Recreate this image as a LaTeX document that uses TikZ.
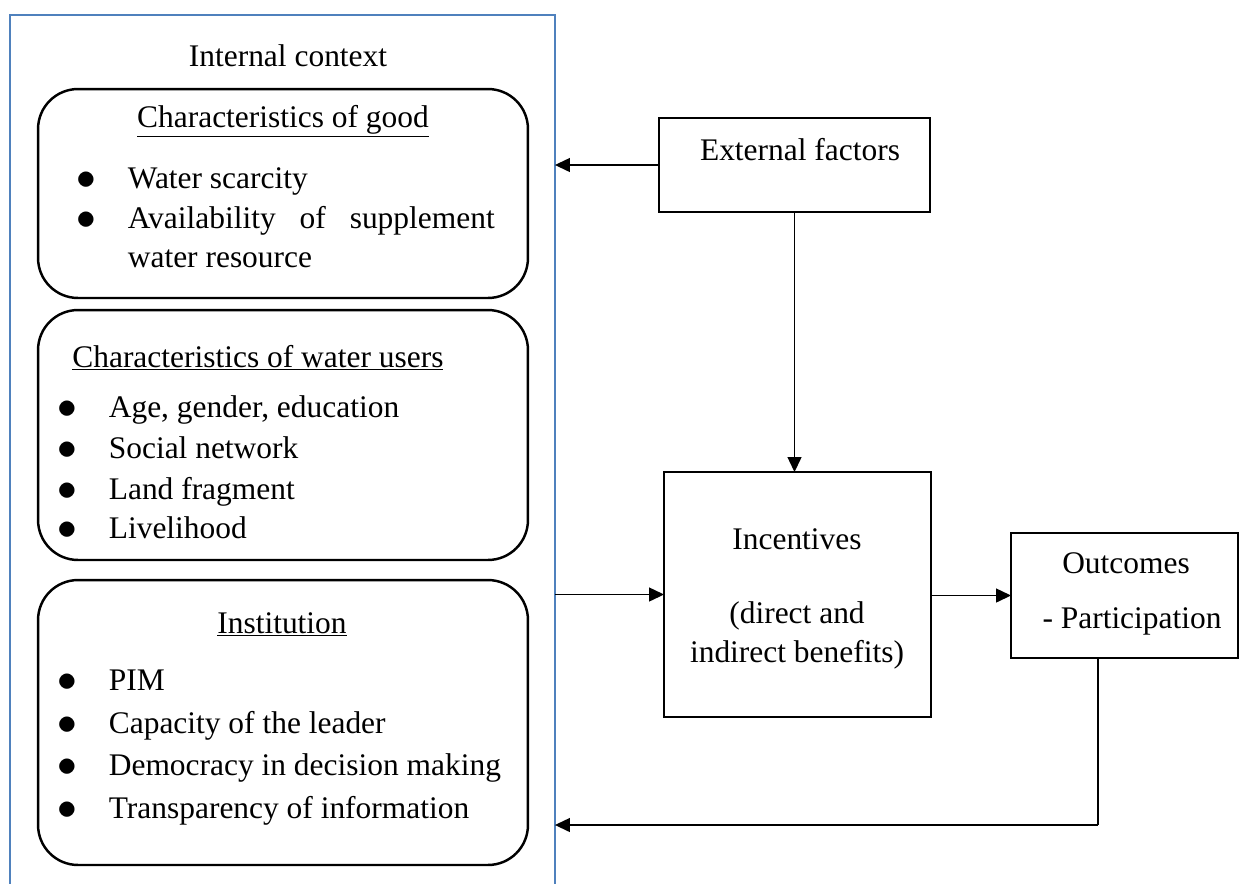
\documentclass[tikz,border=0pt]{standalone}
\usepackage{fontspec}
\setmainfont{Liberation Serif}
\usetikzlibrary{arrows.meta, positioning}
\definecolor{ctxblue}{RGB}{79,129,189}
\tikzset{
  ctxbox/.style={draw=ctxblue, line width=1.1pt, minimum width=10.9cm,
                 minimum height=17.8cm, inner sep=0pt, outer sep=0pt},
  rbox/.style={draw, rounded corners=0.8cm, line width=1.4pt, minimum width=9.8cm,
               minimum height=#1, inner sep=0pt, outer sep=0pt},
  sqbox/.style 2 args={draw, line width=1.4pt, minimum width=#1,
                       minimum height=#2, inner sep=0pt, outer sep=0pt},
  arr/.style={-{Triangle[length=0.3cm, width=0.28cm]}, line width=0.75pt},
  ln/.style={line width=0.75pt},
  txt/.style={anchor=base, inner sep=0pt},
  itm/.style={anchor=base west, inner sep=0pt},
}
\newcommand{\bul}{\makebox[1.03cm][l]{\raisebox{-0.06em}{\scalebox{1.3}{$\bullet$}}}}

\begin{document}
\begin{tikzpicture}[x=0.02cm, y=-0.02cm, font=\fontsize{17.9}{22}\selectfont]
  \useasboundingbox (0,0) rectangle (1239,883);
  \clip (0,0) rectangle (1239,883);

  % --- internal context (left) ---
  \node[ctxbox] (ctx) at (282.5,460) {};
  \node[txt] (ctxT) at (288,66) {Internal context};

  \node[rbox=4.18cm] (good) at (283,193.5) {};
  \node[txt] (goodH) at (283,127) {\underline{Characteristics of good}};
  \node[itm] (good1) at (76,188) {\bul Water scarcity};
  \node[itm] (good2) at (76,228) {\bul\makebox[7.34cm][s]{Availability of supplement}};
  \node[itm] (good3) at (127.5,267) {water resource};

  \node[rbox=5.0cm] (users) at (283,435) {};
  \node[itm] (usersH) at (72,367) {\underline{Characteristics of water users}};
  \node[itm] (users1) at (57,417) {\bul Age, gender, education};
  \node[itm] (users2) at (57,458) {\bul Social network};
  \node[itm] (users3) at (57,499) {\bul Land fragment};
  \node[itm] (users4) at (57,538) {\bul Livelihood};

  \node[rbox=5.7cm] (inst) at (283,722.5) {};
  \node[txt] (instH) at (282,633) {\underline{Institution}};
  \node[itm] (inst1) at (57,690) {\bul PIM};
  \node[itm] (inst2) at (57,733) {\bul Capacity of the leader};
  \node[itm] (inst3) at (57,775) {\bul Democracy in decision making};
  \node[itm] (inst4) at (57,818) {\bul Transparency of information};

  % --- right side ---
  \node[sqbox={5.42cm}{1.88cm}] (ext) at (794.5,165) {};
  \node[txt] (extT) at (800,160) {External factors};

  \node[sqbox={5.34cm}{4.9cm}] (inc) at (797.5,594.5) {};
  \node[txt] (incT) at (797,549) {Incentives};
  \node[txt] (incA) at (797,623) {(direct and};
  \node[txt] (incB) at (797,662) {indirect benefits)};

  \node[sqbox={4.54cm}{2.5cm}] (out) at (1124.5,595.5) {};
  \node[txt] (outT) at (1126,573) {Outcomes};
  \node[txt] (outA) at (1132,628) {- Participation};

  % connectors
  \draw[arr] (ext.west) -- (ext.west -| ctx.east);
  \draw[arr] (ext.south) -- (ext.south |- inc.north);
  \draw[arr] (ctx.east |- inc.west) -- (inc.west);
  \draw[arr] (inc.east |- out.west) -- (out.west);
  \coordinate (fb) at (1098,825);
  \draw[ln] (out.south -| fb) -- (fb);
  \draw[arr] (fb) -- (fb -| ctx.east);
\end{tikzpicture}
\end{document}
